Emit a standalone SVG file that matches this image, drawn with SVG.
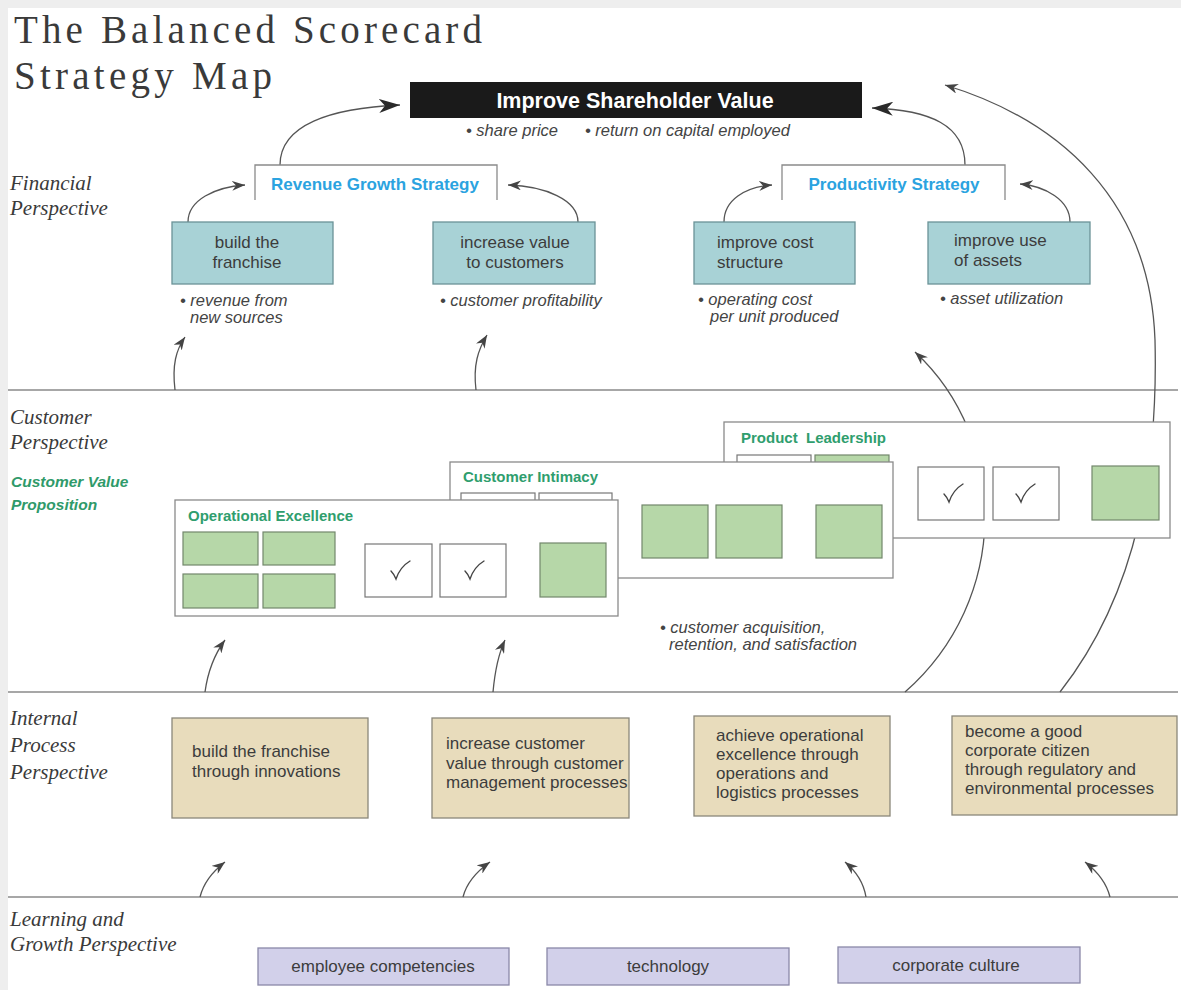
<svg xmlns="http://www.w3.org/2000/svg" width="1181" height="990" viewBox="0 0 1181 990">
  <style>
    .title { font-family: "Liberation Serif", serif; font-size: 39px; fill: #3a3a3a; }
    .persp { font-family: "Liberation Serif", serif; font-style: italic; font-size: 21px; fill: #3a3a3a; }
    .cvp { font-family: "Liberation Sans", sans-serif; font-style: italic; font-weight: bold; font-size: 15.5px; fill: #2f9a6a; }
    .body { font-family: "Liberation Sans", sans-serif; font-size: 17px; fill: #3c3c3c; }
    .note { font-family: "Liberation Sans", sans-serif; font-style: italic; font-size: 16.5px; fill: #444; }
    .strat { font-family: "Liberation Sans", sans-serif; font-weight: bold; font-size: 17px; fill: #2ba3e0; }
    .card-title { font-family: "Liberation Sans", sans-serif; font-weight: bold; font-size: 15px; fill: #2f9e6e; white-space: pre; }
    .divider { stroke: #8a8a8a; stroke-width: 1.4; fill: none; }
    .conn { stroke: #555; stroke-width: 1.3; fill: none; }
    .fin { fill: #a8d2d6; stroke: #6a9397; stroke-width: 1.3; }
    .proc { fill: #e8dcbc; stroke: #8a877a; stroke-width: 1.3; }
    .learn { fill: #d2d0ea; stroke: #8a88a8; stroke-width: 1.3; }
    .card { fill: #ffffff; stroke: #8a8a8a; stroke-width: 1.3; }
    .gbox { fill: #b6d7a8; stroke: #72876c; stroke-width: 1.2; }
    .wbox { fill: #ffffff; stroke: #777; stroke-width: 1.2; }
    .tick { stroke: #444; stroke-width: 1.4; fill: none; stroke-linecap: round; }
    .open { fill: none; stroke: #8a8a8a; stroke-width: 1.3; }
  </style>
  <defs>
    <marker id="head" markerUnits="userSpaceOnUse" markerWidth="14" markerHeight="10" refX="13" refY="5" orient="auto">
      <path d="M0,0 L13,5 L0,10 L4,5 z" fill="#444"/>
    </marker>
    <marker id="headBig" markerUnits="userSpaceOnUse" markerWidth="22" markerHeight="14" refX="21" refY="7" orient="auto">
      <path d="M0,0 L21,7 L0,14 L6,7 z" fill="#2a2a2a"/>
    </marker>
  </defs>

  <!-- page -->
  <rect x="0" y="0" width="1181" height="990" fill="#eeeeee"/>
  <rect x="8" y="8" width="1173" height="982" fill="#ffffff"/>

  <!-- title -->
  <text class="title" x="14" y="43" textLength="468" lengthAdjust="spacing">The Balanced Scorecard</text>
  <text class="title" x="14" y="89" textLength="258" lengthAdjust="spacing">Strategy Map</text>

  <!-- perspective dividers -->
  <g id="dividers">
    <line class="divider" x1="8" y1="390" x2="1178" y2="390"/>
    <line class="divider" x1="8" y1="692" x2="1178" y2="692"/>
    <line class="divider" x1="8" y1="897" x2="1178" y2="897"/>
  </g>

  <!-- perspective labels -->
  <g id="labels">
    <text class="persp" x="10" y="190">Financial</text>
    <text class="persp" x="10" y="215">Perspective</text>
    <text class="persp" x="10" y="424">Customer</text>
    <text class="persp" x="10" y="449">Perspective</text>
    <text class="cvp" x="11" y="487">Customer Value</text>
    <text class="cvp" x="11" y="510">Proposition</text>
    <text class="persp" x="10" y="725">Internal</text>
    <text class="persp" x="10" y="752">Process</text>
    <text class="persp" x="10" y="779">Perspective</text>
    <text class="persp" x="10" y="926">Learning and</text>
    <text class="persp" x="10" y="951">Growth Perspective</text>
  </g>

  <!-- connectors -->
  <g id="connectors">
    <path class="conn" d="M280,165 C280,125 330,108 400,105" marker-end="url(#headBig)"/>
    <path class="conn" d="M965,165 C965,125 930,110 872,108" marker-end="url(#headBig)"/>
    <path class="conn" d="M188,222 C188,200 215,187 245,185" marker-end="url(#head)"/>
    <path class="conn" d="M578,222 C578,200 545,186 508,185" marker-end="url(#head)"/>
    <path class="conn" d="M724,222 C724,200 745,187 772,185" marker-end="url(#head)"/>
    <path class="conn" d="M1070,222 C1070,200 1045,186 1020,184" marker-end="url(#head)"/>
    <path class="conn" d="M1060,692 C1140,590 1158,460 1155,340 C1150,200 1060,120 945,85" marker-end="url(#head)"/>
    <path class="conn" d="M905,692 C1010,600 1010,440 915,352" marker-end="url(#head)"/>
    <path class="conn" d="M175,390 C172,365 176,350 185,337" marker-end="url(#head)"/>
    <path class="conn" d="M476,390 C473,365 478,350 487,335" marker-end="url(#head)"/>
    <path class="conn" d="M205,692 C208,670 214,655 225,640" marker-end="url(#head)"/>
    <path class="conn" d="M493,692 C495,670 498,655 505,640" marker-end="url(#head)"/>
    <path class="conn" d="M200,897 C203,885 212,872 225,862" marker-end="url(#head)"/>
    <path class="conn" d="M463,897 C466,885 476,872 490,862" marker-end="url(#head)"/>
    <path class="conn" d="M866,897 C864,885 857,872 845,862" marker-end="url(#head)"/>
    <path class="conn" d="M1110,897 C1107,885 1098,872 1085,862" marker-end="url(#head)"/>
  </g>

  <!-- financial perspective -->
  <g id="shareholder-value">
    <rect x="410" y="82" width="452" height="36" fill="#1a1a1a"/>
    <text x="635" y="108" text-anchor="middle" font-family="Liberation Sans, sans-serif" font-weight="bold" font-size="21.5" fill="#ffffff">Improve Shareholder Value</text>
    <text class="note" x="466" y="136">• share price</text>
    <text class="note" x="585" y="136">• return on capital employed</text>
  </g>

  <g id="revenue-growth">
    <path class="open" d="M255,200 V165 H497 V200"/>
    <text class="strat" x="375" y="190" text-anchor="middle">Revenue Growth Strategy</text>
  </g>

  <g id="productivity">
    <path class="open" d="M782,200 V165 H1005 V200"/>
    <text class="strat" x="894" y="190" text-anchor="middle">Productivity Strategy</text>
  </g>

  <g id="build-franchise">
    <rect class="fin" x="172" y="222" width="161" height="62"/>
    <text class="body" x="247" y="248" text-anchor="middle">build the</text>
    <text class="body" x="247" y="268" text-anchor="middle">franchise</text>
    <text class="note" x="180" y="306">• revenue from</text>
    <text class="note" x="190" y="323">new sources</text>
  </g>

  <g id="increase-value">
    <rect class="fin" x="433" y="222" width="162" height="62"/>
    <text class="body" x="515" y="248" text-anchor="middle">increase value</text>
    <text class="body" x="515" y="268" text-anchor="middle">to customers</text>
    <text class="note" x="440" y="306">• customer profitability</text>
  </g>

  <g id="cost-structure">
    <rect class="fin" x="694" y="222" width="161" height="62"/>
    <text class="body" x="717" y="248">improve cost</text>
    <text class="body" x="717" y="268">structure</text>
    <text class="note" x="698" y="305">• operating cost</text>
    <text class="note" x="710" y="322">per unit produced</text>
  </g>

  <g id="asset-use">
    <rect class="fin" x="928" y="222" width="162" height="62"/>
    <text class="body" x="954" y="246">improve use</text>
    <text class="body" x="954" y="266">of assets</text>
    <text class="note" x="940" y="304">• asset utilization</text>
  </g>

  <!-- customer value proposition cards, back to front -->
  <g id="product-leadership">
    <rect class="card" x="724" y="422" width="446" height="116"/>
    <text class="card-title" x="741" y="443">Product  Leadership</text>
    <rect class="wbox" x="737" y="455" width="74" height="20"/>
    <rect class="gbox" x="815" y="455" width="74" height="20"/>
    <rect class="wbox" x="918" y="467" width="66" height="53"/>
    <path class="tick" d="M944,494 Q947,497 949,502 Q953,490 963,484"/>
    <rect class="wbox" x="993" y="467" width="66" height="53"/>
    <path class="tick" d="M1016,494 Q1019,497 1021,502 Q1025,490 1035,484"/>
    <rect class="gbox" x="1092" y="466" width="67" height="54"/>
  </g>

  <g id="customer-intimacy">
    <rect class="card" x="450" y="462" width="443" height="116"/>
    <text class="card-title" x="463" y="482">Customer Intimacy</text>
    <rect class="wbox" x="461" y="493" width="74" height="20"/>
    <rect class="wbox" x="539" y="493" width="73" height="20"/>
    <rect class="gbox" x="642" y="505" width="66" height="53"/>
    <rect class="gbox" x="716" y="505" width="66" height="53"/>
    <rect class="gbox" x="816" y="505" width="66" height="53"/>
  </g>

  <g id="operational-excellence">
    <rect class="card" x="175" y="500" width="443" height="116"/>
    <text class="card-title" x="188" y="521">Operational Excellence</text>
    <rect class="gbox" x="183" y="532" width="75" height="33"/>
    <rect class="gbox" x="263" y="532" width="72" height="33"/>
    <rect class="gbox" x="183" y="574" width="75" height="34"/>
    <rect class="gbox" x="263" y="574" width="72" height="34"/>
    <rect class="wbox" x="365" y="544" width="67" height="53"/>
    <path class="tick" d="M391,571 Q394,574 396,579 Q400,567 410,561"/>
    <rect class="wbox" x="440" y="544" width="66" height="53"/>
    <path class="tick" d="M465,571 Q468,574 470,579 Q474,567 484,561"/>
    <rect class="gbox" x="540" y="543" width="66" height="54"/>
  </g>

  <g id="customer-measures">
    <text class="note" x="660" y="633">• customer acquisition,</text>
    <text class="note" x="669" y="650">retention, and satisfaction</text>
  </g>

  <!-- internal process perspective -->
  <g id="innovation-process">
    <rect class="proc" x="172" y="718" width="196" height="100"/>
    <text class="body" x="192" y="757">build the franchise</text>
    <text class="body" x="192" y="777">through innovations</text>
  </g>

  <g id="customer-process">
    <rect class="proc" x="432" y="718" width="197" height="100"/>
    <text class="body" x="446" y="749">increase customer</text>
    <text class="body" x="446" y="769">value through customer</text>
    <text class="body" x="446" y="788">management processes</text>
  </g>

  <g id="operations-process">
    <rect class="proc" x="694" y="716" width="196" height="100"/>
    <text class="body" x="716" y="741">achieve operational</text>
    <text class="body" x="716" y="760">excellence through</text>
    <text class="body" x="716" y="779">operations and</text>
    <text class="body" x="716" y="798">logistics processes</text>
  </g>

  <g id="regulatory-process">
    <rect class="proc" x="952" y="716" width="225" height="99"/>
    <text class="body" x="965" y="737">become a good</text>
    <text class="body" x="965" y="756">corporate citizen</text>
    <text class="body" x="965" y="775">through regulatory and</text>
    <text class="body" x="965" y="794">environmental processes</text>
  </g>

  <!-- learning and growth perspective -->
  <g id="employee-competencies">
    <rect class="learn" x="258" y="948" width="251" height="37"/>
    <text class="body" x="383" y="972" text-anchor="middle">employee competencies</text>
  </g>

  <g id="technology">
    <rect class="learn" x="547" y="948" width="242" height="37"/>
    <text class="body" x="668" y="972" text-anchor="middle">technology</text>
  </g>

  <g id="corporate-culture">
    <rect class="learn" x="838" y="947" width="242" height="36"/>
    <text class="body" x="956" y="971" text-anchor="middle">corporate culture</text>
  </g>
</svg>
